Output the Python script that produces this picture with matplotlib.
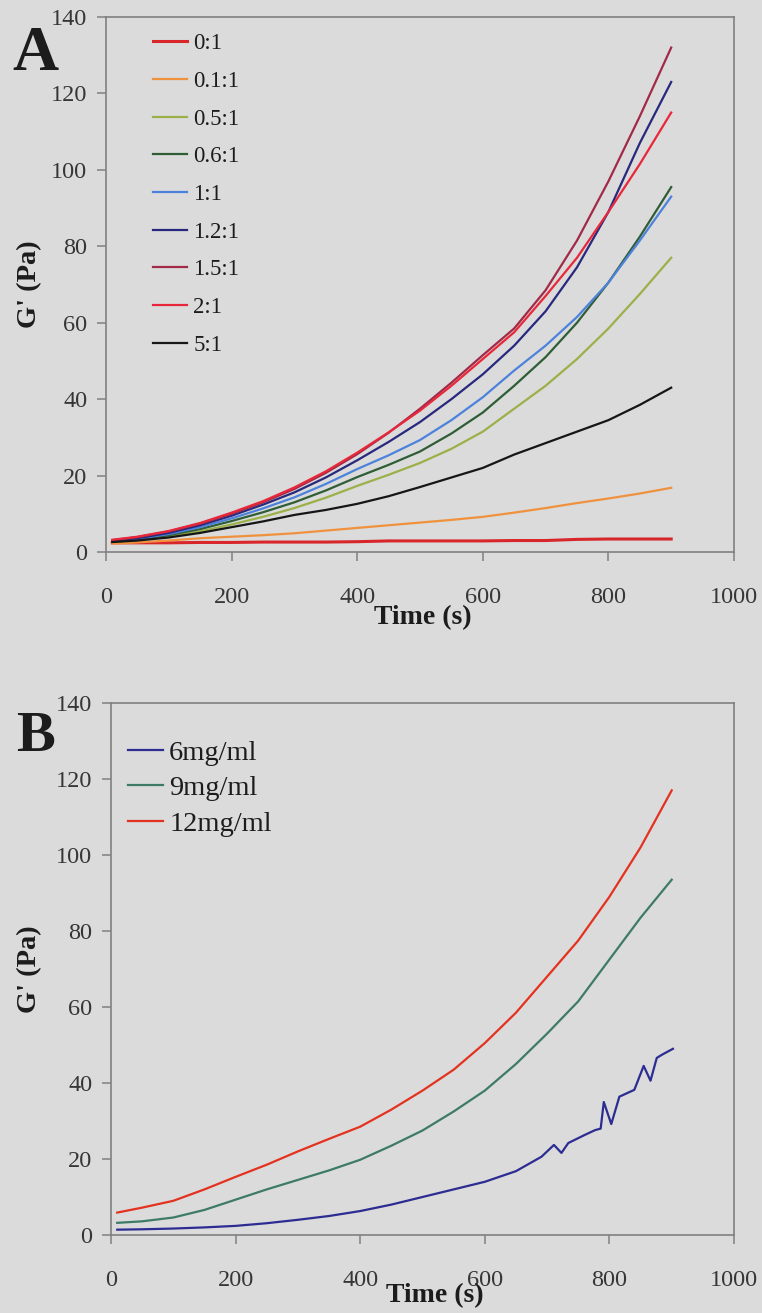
import matplotlib
matplotlib.use("Agg")
import matplotlib.pyplot as plt

plt.rcParams['font.family'] = ['Liberation Serif', 'DejaVu Serif']

# ---- Panel A: G' vs time for different ratios ----
time_a = [10, 50, 100, 150, 200, 250, 300, 350, 400, 450, 500, 550, 600,
          650, 700, 750, 800, 850, 900]

ratio_labels = ['0:1', '0.1:1', '0.5:1', '0.6:1', '1:1', '1.2:1', '1.5:1', '2:1', '5:1']

g_0_1 = [2.4, 2.4, 2.4, 2.5, 2.5, 2.6, 2.6, 2.6, 2.7, 2.9, 2.9, 2.9, 2.9,
         3.0, 3.0, 3.3, 3.4, 3.4, 3.4]
g_01_1 = [2.2, 2.5, 3.0, 3.6, 4.0, 4.4, 4.9, 5.6, 6.3, 7.0, 7.7, 8.4, 9.2,
          10.3, 11.5, 12.8, 14.0, 15.3, 16.8]
g_05_1 = [2.7, 3.1, 4.0, 5.4, 7.2, 9.2, 11.5, 14.2, 17.3, 20.2, 23.3, 27.0, 31.5,
          37.5, 43.5, 50.5, 58.5, 67.5, 77.0]
g_06_1 = [2.8, 3.3, 4.4, 6.0, 8.1, 10.4, 13.0, 16.1, 19.6, 22.8, 26.3, 31.0, 36.5,
          43.5, 51.0, 60.0, 70.5, 82.5, 95.5]
g_1_1 = [2.9, 3.5, 4.7, 6.5, 8.8, 11.4, 14.3, 17.8, 21.7, 25.3, 29.3, 34.5, 40.5,
         47.5, 54.0, 61.5, 70.5, 81.5, 93.0]
g_12_1 = [2.9, 3.6, 5.0, 7.0, 9.5, 12.4, 15.6, 19.5, 24.0, 28.8, 34.0, 40.0, 46.5,
          54.0, 63.0, 74.5, 89.0, 107.0, 123.0]
g_15_1 = [3.1, 3.9, 5.4, 7.4, 10.0, 13.0, 16.5, 20.7, 25.6, 31.2, 37.5, 44.3, 51.5,
          58.5, 68.5, 81.5, 97.0, 114.0, 132.0]
g_2_1 = [3.2, 4.0, 5.5, 7.6, 10.3, 13.3, 16.9, 21.1, 26.0, 31.3, 37.0, 43.5, 50.5,
         57.5, 67.0, 77.0, 89.0, 101.5, 115.0]
g_5_1 = [2.6, 3.0, 3.8, 5.0, 6.5, 8.0, 9.7, 11.0, 12.6, 14.6, 17.0, 19.5, 22.0,
         25.5, 28.5, 31.5, 34.5, 38.5, 43.0]

ratio_series = [g_0_1, g_01_1, g_05_1, g_06_1, g_1_1, g_12_1, g_15_1, g_2_1, g_5_1]
ratio_colors = ['#d8262a', '#f0913e', '#9bb048', '#2f5e36', '#4d82dc',
                '#28287e', '#a22a48', '#e8283a', '#161616']

# ---- Panel B: G' vs time for different concentrations ----
time_b = [10, 50, 100, 150, 200, 250, 300, 350, 400, 450, 500, 550, 600,
          650, 700, 750, 800, 850, 900]
g_9mg = [3.2, 3.6, 4.6, 6.6, 9.3, 12.0, 14.5, 17.0, 19.8, 23.5, 27.5, 32.5, 38.0,
         45.0, 53.0, 61.5, 72.5, 83.5, 93.5]
g_12mg = [5.9, 7.2, 9.0, 12.0, 15.3, 18.5, 22.0, 25.3, 28.5, 33.0, 38.0, 43.5, 50.5,
          58.5, 68.0, 77.5, 89.0, 102.0, 117.0]

time_6mg = [10, 50, 100, 150, 200, 250, 300, 350, 400, 450, 500, 550, 600, 650,
            691, 711, 723, 734, 760, 777, 786, 791, 803, 816, 840, 855, 866, 876,
            885, 902]
g_6mg = [1.4, 1.5, 1.7, 2.0, 2.4, 3.1, 4.0, 5.0, 6.3, 8.0, 10.0, 12.0, 14.0, 16.8,
         20.6, 23.7, 21.6, 24.2, 26.3, 27.6, 28.0, 35.0, 29.2, 36.4, 38.2, 44.5,
         40.6, 46.6, 47.5, 49.0]

conc_labels = ['6mg/ml', '9mg/ml', '12mg/ml']
conc_colors = ['#2c2c92', '#3e7b66', '#e3321f']

x_ticks = [0, 200, 400, 600, 800, 1000]
y_ticks = [0, 20, 40, 60, 80, 100, 120, 140]

BG = '#dbdbdb'
SPINE = '#808080'
TICKTXT = '#363636'
TXT = '#1c1c1c'

W, H = 762, 1313
fig = plt.figure(figsize=(W / 100, H / 100), dpi=100, facecolor=BG)

axA = fig.add_axes([106 / W, 1 - 552 / H, 628 / W, 535 / H])
axB = fig.add_axes([111 / W, 1 - 1235 / H, 623 / W, 532 / H])


def style_axes(ax):
    ax.set_facecolor(BG)
    ax.set_xlim(0, 1000)
    ax.set_ylim(0, 140)
    ax.set_xticks(x_ticks)
    ax.set_yticks(y_ticks)
    for sp in ax.spines.values():
        sp.set_color(SPINE)
        sp.set_linewidth(1.2)
    ax.tick_params(axis='both', direction='out', length=6.5, width=1.1,
                   color=SPINE, labelcolor=TICKTXT, labelsize=17.5)
    ax.tick_params(axis='x', pad=19)
    ax.tick_params(axis='y', pad=7)


# Panel A
style_axes(axA)
for lab, vals, col in zip(ratio_labels, ratio_series, ratio_colors):
    lw = 2.2 if lab == '0:1' else 1.6
    axA.plot(time_a, vals, color=col, lw=lw, label=lab)
legA = axA.legend(loc='upper left', bbox_to_anchor=(0.075, 0.9695), frameon=False,
                  fontsize=16.5, handlelength=1.48, handletextpad=0.28,
                  labelspacing=0.725, borderpad=0, borderaxespad=0)
for t in legA.get_texts():
    t.set_color(TXT)
axA.set_xlabel('Time (s)', fontsize=20, fontweight='bold', color=TXT, va='top')
axA.xaxis.set_label_coords(0.505, -0.099)
axA.set_ylabel("G' (Pa)", fontsize=20.5, fontweight='bold', color=TXT, va='center')
axA.yaxis.set_label_coords(-0.121, 0.5)

# Panel B
style_axes(axB)
axB.plot(time_6mg, g_6mg, color=conc_colors[0], lw=1.6, label=conc_labels[0])
axB.plot(time_b, g_9mg, color=conc_colors[1], lw=1.6, label=conc_labels[1])
axB.plot(time_b, g_12mg, color=conc_colors[2], lw=1.6, label=conc_labels[2])
legB = axB.legend(loc='upper left', bbox_to_anchor=(0.027, 0.931), frameon=False,
                  fontsize=20.5, handlelength=1.25, handletextpad=0.2,
                  labelspacing=0.34, borderpad=0, borderaxespad=0)
for t in legB.get_texts():
    t.set_color(TXT)
axB.set_xlabel('Time (s)', fontsize=20, fontweight='bold', color=TXT, va='top')
axB.xaxis.set_label_coords(0.52, -0.090)
axB.set_ylabel("G' (Pa)", fontsize=20.5, fontweight='bold', color=TXT, va='center')
axB.yaxis.set_label_coords(-0.130, 0.5)

# Panel letters
fig.text(12 / W, 1 - 70.5 / H, 'A', fontsize=46, fontweight='bold', color=TXT,
         ha='left', va='baseline')
fig.text(16 / W, 1 - 751 / H, 'B', fontsize=42, fontweight='bold', color=TXT,
         ha='left', va='baseline')

fig.savefig('out.png', dpi=100, facecolor=BG)
